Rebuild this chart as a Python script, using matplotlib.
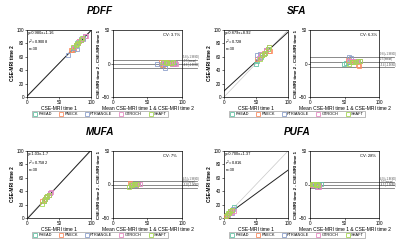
import matplotlib
matplotlib.use('Agg')
import matplotlib.pyplot as plt
import numpy as np

plt.rcParams['font.family'] = ['Liberation Sans', 'DejaVu Sans']

# sites, repeated for each of the 6 subjects (30 points per panel)
sites = ['PHEAD', 'PNECK', 'PTRIANGLE', 'GTROCH', 'SHAFT']
site_colors = ['#66c2a5', '#fc8d62', '#8da0cb', '#e78ac3', '#a6d854']

# time 1 / time 2 values, 6 per site in site order
pdff_t1 = [78, 84, 88, 72, 80, 90,
           70, 76, 82, 68, 74, 86,
           64, 72, 78, 76, 84, 88,
           80, 86, 90, 74, 82, 92,
           76, 80, 86, 72, 78, 84]
pdff_t2 = [80, 85, 88, 70, 82, 91,
           70, 78, 84, 70, 72, 86,
           63, 73, 72, 76, 86, 87,
           81, 86, 91, 75, 83, 91,
           78, 81, 88, 74, 79, 85]

sfa_t1 = [50, 56, 60, 52, 58, 64,
          52, 60, 66, 70, 62, 72,
          52, 56, 62, 66, 68, 70,
          54, 60, 64, 66, 70, 58,
          56, 60, 62, 64, 68, 70]
sfa_t2 = [49, 58, 62, 53, 60, 66,
          57, 62, 68, 68, 66, 69,
          62, 64, 64, 70, 72, 74,
          58, 64, 66, 70, 74, 62,
          56, 62, 64, 66, 72, 74]

mufa_t1 = [26, 28, 30, 32, 34, 36,
           24, 26, 28, 30, 32, 34,
           26, 28, 30, 32, 34, 36,
           28, 30, 32, 34, 36, 38,
           24, 26, 28, 30, 32, 34]
mufa_t2 = [25, 28, 31, 33, 34, 37,
           26, 27, 28, 31, 33, 34,
           25, 29, 31, 32, 35, 37,
           29, 31, 33, 35, 37, 39,
           21, 25, 28, 31, 33, 35]

pufa_t1 = [16, 4, 6, 8, 10, 12,
           3, 5, 7, 9, 11, 13,
           4, 6, 8, 10, 12, 14,
           5, 7, 9, 11, 13, 15,
           2, 4, 6, 8, 10, 12]
pufa_t2 = [17, 4, 6, 7, 10, 11,
           3, 5, 6, 9, 10, 12,
           4, 5, 7, 9, 8, 13,
           5, 6, 8, 10, 9, 11,
           3, 5, 7, 8, 11, 12]

# regression / agreement stats as printed on the chart
fit_slope = [0.980, 0.879, 1.03, 0.700]
fit_icpt = [1.16, 8.92, -1.7, 1.37]
fit_text = ['y=0.980x+1.16\n$r^2$=0.9008\nn=30',
            'y=0.879x+8.92\n$r^2$=0.728\nn=30',
            'y=1.03x-1.7\n$r^2$=0.7582\nn=30',
            'y=0.700x+1.37\n$r^2$=0.816\nn=30']
cv_text = ['CV: 3.7%', 'CV: 6.3%', 'CV: 7%', 'CV: 28%']
ba_upper = [5.8, 9.8, 4.5, 4.0]
ba_mean = [-0.5, 2.5, 0.0, -0.5]
ba_lower = [-6.6, -5.4, -5.0, -4.5]

titles = ['PDFF', 'SFA', 'MUFA', 'PUFA']
t1_list = [pdff_t1, sfa_t1, mufa_t1, pufa_t1]
t2_list = [pdff_t2, sfa_t2, mufa_t2, pufa_t2]

W, H = 400, 241
fig = plt.figure(figsize=(W / 100, H / 100), dpi=100)


def px_axes(x0, y0, x1, y1):
    return fig.add_axes([x0 / W, 1 - y1 / H, (x1 - x0) / W, (y1 - y0) / H])


def style(ax):
    ax.tick_params(labelsize=3.3, length=1.2, width=0.4, pad=1)
    for s in ax.spines.values():
        s.set_linewidth(0.5)


groups = [(0, 0), (197, 0), (0, 121), (197, 121)]
for i, (ox, oy) in enumerate(groups):
    t1 = np.array(t1_list[i], dtype=float)
    t2 = np.array(t2_list[i], dtype=float)
    site_idx = np.repeat(np.arange(5), 6)

    fig.text((ox + 100) / W, 1 - (oy + 11) / H, titles[i], ha='center', va='center',
             fontsize=7.2, fontweight='bold', fontstyle='italic')

    # scatter with regression line
    ax = px_axes(ox + 27, oy + 30, ox + 91, oy + 97)
    xx = np.array([0, 100])
    ax.plot(xx, xx, color='#c8c8c8', lw=0.5, zorder=1)
    ax.plot(xx, fit_slope[i] * xx + fit_icpt[i], color='#222222', lw=0.7, zorder=2)
    for k in range(5):
        m = site_idx == k
        ax.plot(t1[m], t2[m], 's', ms=3.2, mfc='none', mec=site_colors[k], mew=0.6, zorder=3)
    ax.set_xlim(0, 100)
    ax.set_ylim(0, 100)
    ax.set_xticks([0, 50, 100])
    ax.set_yticks([0, 20, 40, 60, 80, 100])
    ax.text(0.02, 0.98, fit_text[i], transform=ax.transAxes, ha='left', va='top',
            fontsize=2.9, linespacing=1.3)
    ax.set_xlabel('CSE-MRI time 1', fontsize=3.6, labelpad=1)
    ax.set_ylabel('CSE-MRI time 2', fontsize=3.4, fontweight='bold', labelpad=1)
    style(ax)

    # Bland-Altman
    ba = px_axes(ox + 113, oy + 30, ox + 182, oy + 97)
    mean = (t1 + t2) / 2
    diff = t2 - t1
    for k in range(5):
        m = site_idx == k
        ba.plot(mean[m], diff[m], 's', ms=3.2, mfc='none', mec=site_colors[k], mew=0.6, zorder=3)
    for val, lab in zip([ba_upper[i], ba_mean[i], ba_lower[i]],
                        ['+1.96SD', 'mean', '-1.96SD']):
        ba.plot([0, 122], [val, val], color='#777777', lw=0.6, clip_on=False, zorder=2)
        ba.text(101, val + 0.8, '{0:.1f} ({1:s})'.format(val, lab), fontsize=1.8,
                ha='left', va='bottom', color='#444444', clip_on=False)
    ba.set_xlim(0, 100)
    ba.set_ylim(-50, 50)
    ba.set_xticks([0, 50, 100])
    ba.set_yticks([-50, 0, 50])
    ba.text(0.72, 0.92, cv_text[i], transform=ba.transAxes, ha='left', va='center',
            fontsize=3.0)
    ba.set_xlabel('Mean CSE-MRI time 1 & CSE-MRI time 2', fontsize=3.6, labelpad=1)
    ba.set_ylabel('CSE-MRI time 2 - CSE-MRI time 1', fontsize=3.2, fontweight='bold', labelpad=1)
    style(ba)

    handles = [plt.Line2D([], [], ls='none', marker='s', ms=2.6, mfc='none',
                          mec=site_colors[k], mew=0.6) for k in range(5)]
    fig.legend(handles, sites, loc='center', ncol=5, fontsize=2.8,
               bbox_to_anchor=((ox + 100) / W, 1 - (oy + 114) / H),
               frameon=True, fancybox=False, edgecolor='#888888', framealpha=1,
               handlelength=1, handletextpad=0.4, columnspacing=1.8,
               borderpad=0.3).get_frame().set_linewidth(0.4)

fig.savefig('out.png', dpi=100)
